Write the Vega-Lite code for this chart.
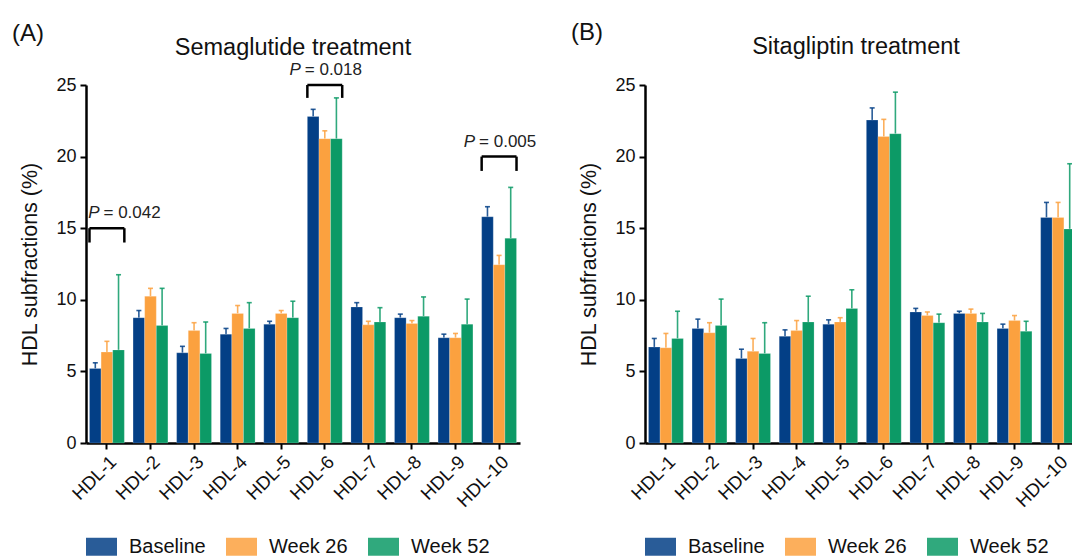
{
  "$schema": "https://vega.github.io/schema/vega-lite/v6.json",
  "padding": {"left": 11, "top": 20, "right": 0, "bottom": 0},
  "background": "white",
  "datasets": {
    "bars": [
      {"panel": "A", "hdl": "HDL-1", "group": "Baseline", "mean": 5.2, "upper": 5.6},
      {"panel": "A", "hdl": "HDL-1", "group": "Week 26", "mean": 6.35, "upper": 7.1},
      {"panel": "A", "hdl": "HDL-1", "group": "Week 52", "mean": 6.5, "upper": 11.75},
      {"panel": "A", "hdl": "HDL-2", "group": "Baseline", "mean": 8.75, "upper": 9.25},
      {"panel": "A", "hdl": "HDL-2", "group": "Week 26", "mean": 10.25, "upper": 10.8},
      {"panel": "A", "hdl": "HDL-2", "group": "Week 52", "mean": 8.2, "upper": 10.8},
      {"panel": "A", "hdl": "HDL-3", "group": "Baseline", "mean": 6.3, "upper": 6.75},
      {"panel": "A", "hdl": "HDL-3", "group": "Week 26", "mean": 7.85, "upper": 8.4},
      {"panel": "A", "hdl": "HDL-3", "group": "Week 52", "mean": 6.25, "upper": 8.45},
      {"panel": "A", "hdl": "HDL-4", "group": "Baseline", "mean": 7.6, "upper": 8.0},
      {"panel": "A", "hdl": "HDL-4", "group": "Week 26", "mean": 9.05, "upper": 9.6},
      {"panel": "A", "hdl": "HDL-4", "group": "Week 52", "mean": 8.0, "upper": 9.8},
      {"panel": "A", "hdl": "HDL-5", "group": "Baseline", "mean": 8.3, "upper": 8.5},
      {"panel": "A", "hdl": "HDL-5", "group": "Week 26", "mean": 9.05, "upper": 9.25},
      {"panel": "A", "hdl": "HDL-5", "group": "Week 52", "mean": 8.75, "upper": 9.9},
      {"panel": "A", "hdl": "HDL-6", "group": "Baseline", "mean": 22.8, "upper": 23.3},
      {"panel": "A", "hdl": "HDL-6", "group": "Week 26", "mean": 21.25, "upper": 21.8},
      {"panel": "A", "hdl": "HDL-6", "group": "Week 52", "mean": 21.25, "upper": 24.1},
      {"panel": "A", "hdl": "HDL-7", "group": "Baseline", "mean": 9.5, "upper": 9.8},
      {"panel": "A", "hdl": "HDL-7", "group": "Week 26", "mean": 8.25, "upper": 8.5},
      {"panel": "A", "hdl": "HDL-7", "group": "Week 52", "mean": 8.45, "upper": 9.45},
      {"panel": "A", "hdl": "HDL-8", "group": "Baseline", "mean": 8.75, "upper": 9.0},
      {"panel": "A", "hdl": "HDL-8", "group": "Week 26", "mean": 8.35, "upper": 8.55},
      {"panel": "A", "hdl": "HDL-8", "group": "Week 52", "mean": 8.85, "upper": 10.2},
      {"panel": "A", "hdl": "HDL-9", "group": "Baseline", "mean": 7.35, "upper": 7.6},
      {"panel": "A", "hdl": "HDL-9", "group": "Week 26", "mean": 7.35, "upper": 7.65},
      {"panel": "A", "hdl": "HDL-9", "group": "Week 52", "mean": 8.3, "upper": 10.05},
      {"panel": "A", "hdl": "HDL-10", "group": "Baseline", "mean": 15.8, "upper": 16.5},
      {"panel": "A", "hdl": "HDL-10", "group": "Week 26", "mean": 12.45, "upper": 13.1},
      {"panel": "A", "hdl": "HDL-10", "group": "Week 52", "mean": 14.3, "upper": 17.85},
      {"panel": "B", "hdl": "HDL-1", "group": "Baseline", "mean": 6.7, "upper": 7.3},
      {"panel": "B", "hdl": "HDL-1", "group": "Week 26", "mean": 6.65, "upper": 7.65},
      {"panel": "B", "hdl": "HDL-1", "group": "Week 52", "mean": 7.3, "upper": 9.2},
      {"panel": "B", "hdl": "HDL-2", "group": "Baseline", "mean": 8.0, "upper": 8.65},
      {"panel": "B", "hdl": "HDL-2", "group": "Week 26", "mean": 7.7, "upper": 8.4},
      {"panel": "B", "hdl": "HDL-2", "group": "Week 52", "mean": 8.2, "upper": 10.05},
      {"panel": "B", "hdl": "HDL-3", "group": "Baseline", "mean": 5.9, "upper": 6.55},
      {"panel": "B", "hdl": "HDL-3", "group": "Week 26", "mean": 6.4, "upper": 7.3},
      {"panel": "B", "hdl": "HDL-3", "group": "Week 52", "mean": 6.25, "upper": 8.4},
      {"panel": "B", "hdl": "HDL-4", "group": "Baseline", "mean": 7.45, "upper": 7.9},
      {"panel": "B", "hdl": "HDL-4", "group": "Week 26", "mean": 7.85, "upper": 8.55},
      {"panel": "B", "hdl": "HDL-4", "group": "Week 52", "mean": 8.45, "upper": 10.25},
      {"panel": "B", "hdl": "HDL-5", "group": "Baseline", "mean": 8.3, "upper": 8.6},
      {"panel": "B", "hdl": "HDL-5", "group": "Week 26", "mean": 8.45, "upper": 8.75},
      {"panel": "B", "hdl": "HDL-5", "group": "Week 52", "mean": 9.4, "upper": 10.7},
      {"panel": "B", "hdl": "HDL-6", "group": "Baseline", "mean": 22.55, "upper": 23.4},
      {"panel": "B", "hdl": "HDL-6", "group": "Week 26", "mean": 21.4, "upper": 22.6},
      {"panel": "B", "hdl": "HDL-6", "group": "Week 52", "mean": 21.6, "upper": 24.5},
      {"panel": "B", "hdl": "HDL-7", "group": "Baseline", "mean": 9.15, "upper": 9.4},
      {"panel": "B", "hdl": "HDL-7", "group": "Week 26", "mean": 8.9, "upper": 9.15},
      {"panel": "B", "hdl": "HDL-7", "group": "Week 52", "mean": 8.4, "upper": 9.0},
      {"panel": "B", "hdl": "HDL-8", "group": "Baseline", "mean": 9.05, "upper": 9.2},
      {"panel": "B", "hdl": "HDL-8", "group": "Week 26", "mean": 9.05, "upper": 9.35},
      {"panel": "B", "hdl": "HDL-8", "group": "Week 52", "mean": 8.45, "upper": 9.05},
      {"panel": "B", "hdl": "HDL-9", "group": "Baseline", "mean": 8.0, "upper": 8.3},
      {"panel": "B", "hdl": "HDL-9", "group": "Week 26", "mean": 8.55, "upper": 8.9},
      {"panel": "B", "hdl": "HDL-9", "group": "Week 52", "mean": 7.8, "upper": 8.5},
      {"panel": "B", "hdl": "HDL-10", "group": "Baseline", "mean": 15.75, "upper": 16.8},
      {"panel": "B", "hdl": "HDL-10", "group": "Week 26", "mean": 15.75, "upper": 16.8},
      {"panel": "B", "hdl": "HDL-10", "group": "Week 52", "mean": 14.95, "upper": 19.5}
    ],
    "brackets": [
      {"hdl": "HDL-1", "top": 15.0, "bottom": 14.0, "label": "= 0.042", "align": "left"},
      {"hdl": "HDL-6", "top": 25.0, "bottom": 24.1, "label": "= 0.018", "align": "center"},
      {"hdl": "HDL-10", "top": 20.0, "bottom": 19.0, "label": "= 0.005", "align": "center"}
    ]
  },
  "config": {
    "font": "Liberation Sans",
    "view": {"stroke": null},
    "axis": {
      "domainColor": "black", "domainWidth": 2.5, "tickColor": "black", "tickWidth": 2, "tickSize": 6,
      "labelColor": "#111", "labelFont": "Liberation Sans", "grid": false,
      "titleFont": "Liberation Sans", "titleColor": "#111", "titleFontWeight": "normal"
    },
    "legend": {
      "orient": "bottom", "direction": "horizontal", "title": null,
      "labelFont": "Liberation Sans", "labelFontSize": 20, "labelColor": "#111",
      "symbolType": "M-1,-0.58H1V0.58H-1Z", "symbolSize": 961, "symbolStrokeWidth": 0,
      "labelOffset": 12, "columnPadding": 20, "offset": 20
    },
    "title": {"font": "Liberation Sans", "fontWeight": "normal", "color": "#111"}
  },
  "resolve": {"scale": {"color": "independent"}, "legend": {"color": "independent"}},
  "spacing": 33,
  "hconcat": [
    {
      "title": {"text": "(A)", "anchor": "start", "fontSize": 24, "dx": -8, "offset": -10},
      "vconcat": [
        {
          "width": 434, "height": 358,
          "title": {"text": "Semaglutide treatment", "fontSize": 23.5, "dx": -10, "offset": 2},
          "encoding": {
            "x": {"field": "hdl", "type": "nominal", "sort": ["HDL-1","HDL-2","HDL-3","HDL-4","HDL-5","HDL-6","HDL-7","HDL-8","HDL-9","HDL-10"],
              "scale": {"paddingInner": 0.2, "paddingOuter": 0.08},
              "axis": {"title": null, "labelAngle": -45, "labelFontSize": 18.5, "labelPadding": 3}}
          },
          "layer": [
            {
              "data": {"name": "bars"},
              "transform": [{"filter": "datum.panel === 'A'"}],
              "encoding": {
                "xOffset": {"field": "group", "type": "nominal", "sort": ["Baseline","Week 26","Week 52"], "scale": {"paddingInner": 0, "paddingOuter": 0}},
                "color": {"field": "group", "type": "nominal", "sort": ["Baseline","Week 26","Week 52"],
                  "scale": {"domain": ["Baseline","Week 26","Week 52"], "range": ["#033F86","#FBA13F","#0C9A66"]}}
              },
              "layer": [
                {"mark": {"type": "rule", "strokeWidth": 1.6, "opacity": 0.85},
                 "encoding": {"y": {"field": "mean", "type": "quantitative"}, "y2": {"field": "upper"}}},
                {"mark": {"type": "tick", "size": 5, "thickness": 1.6, "opacity": 0.85},
                 "encoding": {"y": {"field": "upper", "type": "quantitative"}}},
                {"mark": {"type": "bar", "stroke": "white", "strokeWidth": 0.5, "strokeOpacity": 0.4},
                 "encoding": {"y": {"field": "mean", "type": "quantitative",
                   "scale": {"domain": [0, 25], "nice": false},
                   "axis": {"title": "HDL subfractions (%)", "titleFontSize": 21.5, "labelFontSize": 18, "values": [0,5,10,15,20,25], "labelPadding": 4, "titlePadding": 14}}}}
              ]
            },
            {
              "data": {"name": "brackets"},
              "layer": [
                {"mark": {"type": "rule", "color": "black", "strokeWidth": 2.5},
                 "encoding": {"x": {"field": "hdl", "type": "nominal", "bandPosition": 0, "sort": ["HDL-1","HDL-2","HDL-3","HDL-4","HDL-5","HDL-6","HDL-7","HDL-8","HDL-9","HDL-10"]},
                   "y": {"field": "top", "type": "quantitative"}, "y2": {"field": "bottom"}}},
                {"mark": {"type": "rule", "color": "black", "strokeWidth": 2.5},
                 "encoding": {"x": {"field": "hdl", "type": "nominal", "bandPosition": 1, "sort": ["HDL-1","HDL-2","HDL-3","HDL-4","HDL-5","HDL-6","HDL-7","HDL-8","HDL-9","HDL-10"]},
                   "y": {"field": "top", "type": "quantitative"}, "y2": {"field": "bottom"}}},
                {"mark": {"type": "rule", "color": "black", "strokeWidth": 2.5},
                 "encoding": {"x": {"field": "hdl", "type": "nominal", "bandPosition": 0, "sort": ["HDL-1","HDL-2","HDL-3","HDL-4","HDL-5","HDL-6","HDL-7","HDL-8","HDL-9","HDL-10"]},
                   "x2": {"field": "hdl", "bandPosition": 1},
                   "y": {"field": "top", "type": "quantitative"}}},
                {"transform": [{"filter": "datum.align === 'left'"}],
                 "layer": [
                   {"mark": {"type": "text", "text": "P", "fontStyle": "italic", "fontSize": 17, "align": "right", "baseline": "bottom", "dx": 10, "dy": -6, "color": "#222"},
                    "encoding": {"x": {"field": "hdl", "type": "nominal", "bandPosition": 0, "sort": ["HDL-1","HDL-2","HDL-3","HDL-4","HDL-5","HDL-6","HDL-7","HDL-8","HDL-9","HDL-10"]}, "y": {"field": "top", "type": "quantitative"}}},
                   {"mark": {"type": "text", "fontSize": 17, "align": "left", "baseline": "bottom", "dx": 14, "dy": -6, "color": "#222"},
                    "encoding": {"text": {"field": "label"}, "x": {"field": "hdl", "type": "nominal", "bandPosition": 0, "sort": ["HDL-1","HDL-2","HDL-3","HDL-4","HDL-5","HDL-6","HDL-7","HDL-8","HDL-9","HDL-10"]}, "y": {"field": "top", "type": "quantitative"}}}
                 ]},
                {"transform": [{"filter": "datum.align === 'center'"}],
                 "layer": [
                   {"mark": {"type": "text", "text": "P", "fontStyle": "italic", "fontSize": 17, "align": "right", "baseline": "bottom", "dx": -24, "dy": -6, "color": "#222"},
                    "encoding": {"x": {"field": "hdl", "type": "nominal", "sort": ["HDL-1","HDL-2","HDL-3","HDL-4","HDL-5","HDL-6","HDL-7","HDL-8","HDL-9","HDL-10"]}, "y": {"field": "top", "type": "quantitative"}}},
                   {"mark": {"type": "text", "fontSize": 17, "align": "left", "baseline": "bottom", "dx": -20, "dy": -6, "color": "#222"},
                    "encoding": {"text": {"field": "label"}, "x": {"field": "hdl", "type": "nominal", "sort": ["HDL-1","HDL-2","HDL-3","HDL-4","HDL-5","HDL-6","HDL-7","HDL-8","HDL-9","HDL-10"]}, "y": {"field": "top", "type": "quantitative"}}}
                 ]}
              ]
            }
          ]
        }
      ]
    },
    {
      "title": {"text": "(B)", "anchor": "start", "fontSize": 24, "dx": -8, "offset": -10},
      "vconcat": [
        {
          "width": 434, "height": 358,
          "title": {"text": "Sitagliptin treatment", "fontSize": 23.5, "dx": -6, "offset": 18},
          "data": {"name": "bars"},
          "transform": [{"filter": "datum.panel === 'B'"}],
          "encoding": {
            "x": {"field": "hdl", "type": "nominal", "sort": ["HDL-1","HDL-2","HDL-3","HDL-4","HDL-5","HDL-6","HDL-7","HDL-8","HDL-9","HDL-10"],
              "scale": {"paddingInner": 0.2, "paddingOuter": 0.08},
              "axis": {"title": null, "labelAngle": -45, "labelFontSize": 18.5, "labelPadding": 3}},
            "xOffset": {"field": "group", "type": "nominal", "sort": ["Baseline","Week 26","Week 52"], "scale": {"paddingInner": 0, "paddingOuter": 0}},
            "color": {"field": "group", "type": "nominal", "sort": ["Baseline","Week 26","Week 52"],
              "scale": {"domain": ["Baseline","Week 26","Week 52"], "range": ["#033F86","#FBA13F","#0C9A66"]}}
          },
          "layer": [
            {"mark": {"type": "rule", "strokeWidth": 1.6, "opacity": 0.85},
             "encoding": {"y": {"field": "mean", "type": "quantitative"}, "y2": {"field": "upper"}}},
            {"mark": {"type": "tick", "size": 5, "thickness": 1.6, "opacity": 0.85},
             "encoding": {"y": {"field": "upper", "type": "quantitative"}}},
            {"mark": {"type": "bar", "stroke": "white", "strokeWidth": 0.5, "strokeOpacity": 0.4},
             "encoding": {"y": {"field": "mean", "type": "quantitative",
               "scale": {"domain": [0, 25], "nice": false},
               "axis": {"title": "HDL subfractions (%)", "titleFontSize": 21.5, "labelFontSize": 18, "values": [0,5,10,15,20,25], "labelPadding": 4, "titlePadding": 14}}}}
          ]
        }
      ]
    }
  ]
}
